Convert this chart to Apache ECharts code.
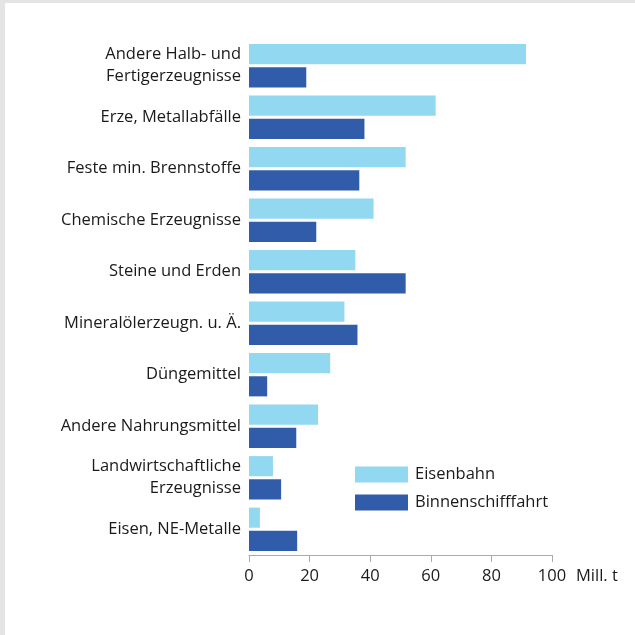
<!DOCTYPE html>
<html>
<head>
<meta charset="utf-8">
<script src="https://cdn.jsdelivr.net/npm/echarts@6/dist/echarts.min.js"></script>
<style>
  html, body { margin: 0; padding: 0; background: #e4e4e4; }
  .panel { position: absolute; left: 5px; top: 3px; width: 630px; height: 632px; background: #fff; }
  #main { position: absolute; left: 0; top: 0; width: 635px; height: 635px; }
</style>
</head>
<body>
<div class="panel"></div>
<div id="main"></div>
<script>
  var categories = [
    'Andere Halb- und\nFertigerzeugnisse',
    'Erze, Metallabfälle',
    'Feste min. Brennstoffe',
    'Chemische Erzeugnisse',
    'Steine und Erden',
    'Mineralölerzeugn. u. Ä.',
    'Düngemittel',
    'Andere Nahrungsmittel',
    'Landwirtschaftliche\nErzeugnisse',
    'Eisen, NE-Metalle'
  ];
  var eisenbahn = [91.4, 61.6, 51.7, 41.1, 35.1, 31.5, 26.8, 22.8, 7.9, 3.6];
  var binnenschifffahrt = [18.9, 38.1, 36.4, 22.2, 51.7, 35.8, 6.0, 15.6, 10.6, 15.9];
  var xTicks = [0, 20, 40, 60, 80, 100];

  var myChart = echarts.init(document.getElementById('main'));
  var font = 'Open Sans';
  var fs = 16.5;
  myChart.setOption({
    animation: false,
    textStyle: { fontFamily: font },
    grid: { left: 249, right: 83, top: 40, bottom: 80, containLabel: false },
    legend: {
      orient: 'vertical',
      left: 355,
      top: 466,
      padding: 0,
      itemWidth: 53,
      itemHeight: 16,
      itemGap: 11,
      icon: 'rect',
      textStyle: { fontSize: fs, color: '#1a1a1a', fontFamily: font, padding: [0, 0, 0, 2] },
      data: ['Eisenbahn', 'Binnenschifffahrt']
    },
    xAxis: {
      type: 'value',
      min: xTicks[0],
      max: xTicks[xTicks.length - 1],
      interval: 20,
      name: 'Mill. t',
      nameLocation: 'end',
      nameGap: 24,
      nameTextStyle: { fontSize: fs, color: '#1a1a1a', verticalAlign: 'top', padding: [13, 0, 0, 0] },
      axisLine: { show: true, lineStyle: { color: '#aaa', width: 1 } },
      axisTick: { show: true, length: 7, lineStyle: { color: '#aaa' } },
      axisLabel: { fontSize: fs, color: '#1a1a1a', margin: 13 },
      splitLine: { show: false }
    },
    yAxis: {
      type: 'category',
      inverse: true,
      data: categories,
      axisLine: { show: false },
      axisTick: { show: false },
      axisLabel: { fontSize: fs, color: '#1a1a1a', margin: 8, lineHeight: 22, align: 'right' }
    },
    series: [
      {
        name: 'Eisenbahn',
        type: 'bar',
        data: eisenbahn,
        itemStyle: { color: '#92d8f0' },
        barGap: '15%',
        barCategoryGap: '16%'
      },
      {
        name: 'Binnenschifffahrt',
        type: 'bar',
        data: binnenschifffahrt,
        itemStyle: { color: '#305ca9' },
        barGap: '15%',
        barCategoryGap: '16%'
      }
    ]
  });
</script>
</body>
</html>
